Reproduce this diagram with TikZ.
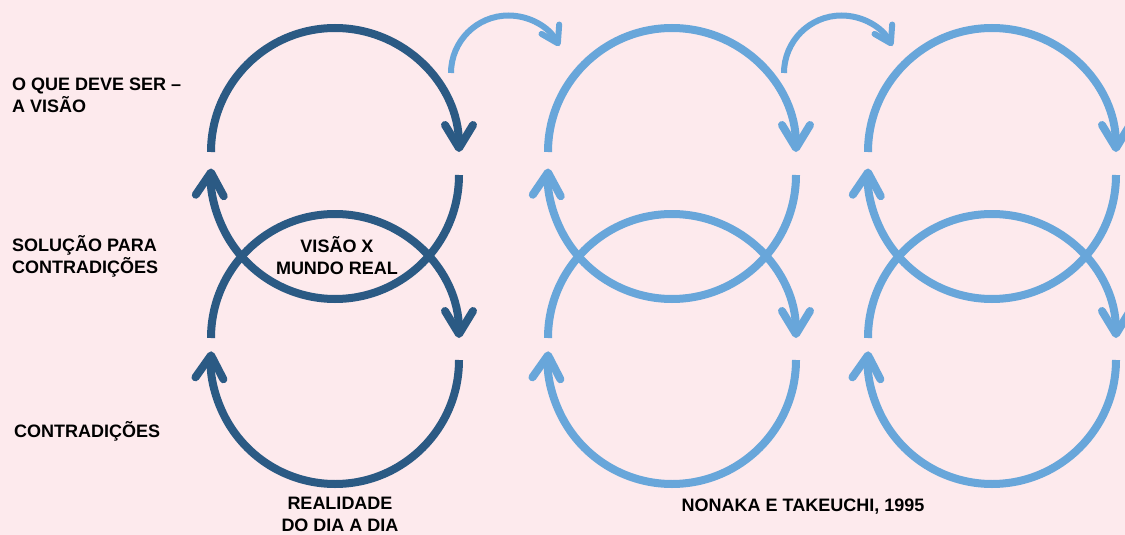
\documentclass[tikz,border=0pt]{standalone}
\usepackage{fontspec}
\setmainfont{Liberation Sans}
\usetikzlibrary{arrows.meta}
\definecolor{Fundo}{RGB}{253,234,237}
\definecolor{AzulEsc}{RGB}{43,90,132}
\definecolor{AzulCla}{RGB}{104,166,218}

\begin{document}
\begin{tikzpicture}[
  x=1pt, y=1pt,
  font=\fontsize{18}{22}\selectfont\bfseries,
  rotulo/.style={inner sep=0pt, align=left, anchor=base west},
  legenda/.style={inner sep=0pt, align=center, anchor=base},
  arco/.style={-{Straight Barb[round, length=23pt, width=28pt]}, line width=8pt},
  escuro/.style={arco, draw=AzulEsc},
  claro/.style={arco, draw=AzulCla},
  salto/.style={-{Straight Barb[round, length=16pt, width=20pt]},
                line width=6pt, draw=AzulCla}
]

%% ——— Fundo ———
\fill[Fundo] (0,0) rectangle (1125,-535);
\useasboundingbox (0,0) rectangle (1125,-535);

%% ——— Rótulos à esquerda ———
\node[rotulo] (visao)   at (12,-112) {O QUE DEVE SER –\\A VISÃO};
\node[rotulo] (solucao) at (12,-273) {SOLUÇÃO PARA\\CONTRADIÇÕES};
\node[rotulo] (contrad) at (14,-437) {CONTRADIÇÕES};

%% ——— Coluna 1 (escura) ———
\draw[escuro] (211,-152) arc[start angle=180, end angle=0,    radius=124pt];
\draw[escuro] (459,-175) arc[start angle=0,   end angle=-183, radius=124pt];
\draw[escuro] (211,-338) arc[start angle=180, end angle=0,    radius=124pt];
\draw[escuro] (459,-360) arc[start angle=0,   end angle=-184, radius=124pt];

\node[legenda] (mundo)  at (337,-274) {VISÃO X\\MUNDO REAL};
\node[legenda] (realid) at (340,-531) {REALIDADE\\DO DIA A DIA};

%% ——— Coluna 2 (clara) ———
\draw[claro] (548,-152) arc[start angle=180, end angle=0,    radius=124pt];
\draw[claro] (796,-175) arc[start angle=0,   end angle=-183, radius=124pt];
\draw[claro] (548,-338) arc[start angle=180, end angle=0,    radius=124pt];
\draw[claro] (796,-360) arc[start angle=0,   end angle=-184, radius=124pt];

%% ——— Coluna 3 (clara) ———
\draw[claro] (868,-152)  arc[start angle=180, end angle=0,    radius=124pt];
\draw[claro] (1116,-175) arc[start angle=0,   end angle=-183, radius=124pt];
\draw[claro] (868,-338)  arc[start angle=180, end angle=0,    radius=124pt];
\draw[claro] (1116,-360) arc[start angle=0,   end angle=-184, radius=124pt];

%% Saltos entre colunas
\draw[salto] (451,-73) arc[start angle=180, end angle=28, radius=57.5pt];
\draw[salto] (784,-73) arc[start angle=180, end angle=28, radius=57.5pt];

\node[legenda] (fonte) at (803,-511) {NONAKA E TAKEUCHI, 1995};

\end{tikzpicture}
\end{document}
